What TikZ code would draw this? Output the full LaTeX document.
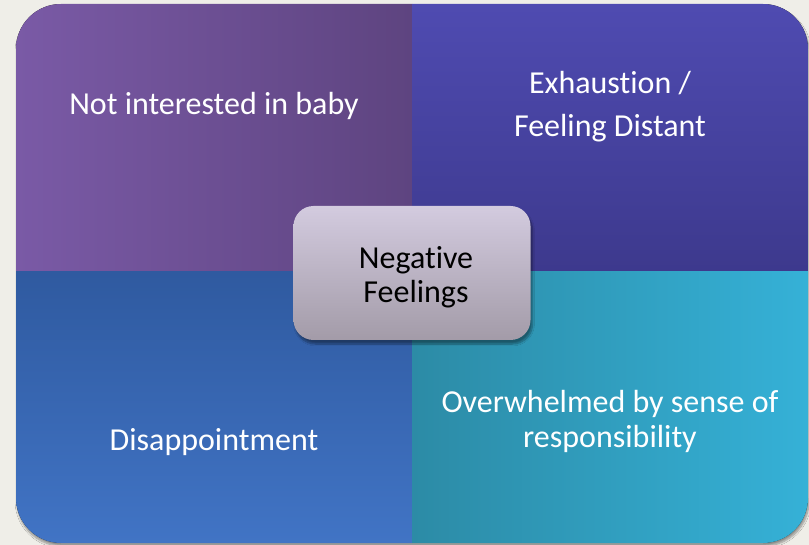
\documentclass[tikz,border=0pt]{standalone}
\usepackage{fontspec}
\setmainfont{Carlito}[Ligatures=NoCommon]
\usetikzlibrary{shadows.blur}

\definecolor{paper}{HTML}{EFEEE8}
\definecolor{plumL}{HTML}{7A5AA6}
\definecolor{plumR}{HTML}{5E4480}
\definecolor{indigoT}{HTML}{4F4BB1}
\definecolor{indigoB}{HTML}{3D398D}
\definecolor{blueT}{HTML}{2F5AA0}
\definecolor{blueB}{HTML}{4174C5}
\definecolor{tealL}{HTML}{2C8BA6}
\definecolor{tealR}{HTML}{35B1D7}
\definecolor{hubT}{HTML}{D3CBDF}
\definecolor{hubB}{HTML}{A39BA8}

\tikzset{
    quadtext/.style={text=white, align=center, font=\fontsize{32}{35}\selectfont},
    hub/.style={draw=none, rounded corners=20pt, minimum width=237pt, minimum height=134pt,
        top color=hubT, bottom color=hubB, align=center,
        font=\fontsize{32}{34}\selectfont,
        blur shadow={shadow xshift=2pt, shadow yshift=-4pt, shadow blur steps=8}}
}

\begin{document}
\begin{tikzpicture}[x=1pt, y=-1pt]
    \fill[paper] (0, 0) rectangle (809, 545);
    \useasboundingbox (0, 0) rectangle (809, 545);

    % soft shadow under the square
    \path[rounded corners=45pt, fill=paper,
        blur shadow={shadow xshift=1pt, shadow yshift=-3pt, shadow blur steps=8}]
        (16, 4) rectangle (808, 543);

    \begin{scope}
        \clip[rounded corners=45pt] (16, 4) rectangle (808, 543);
        \fill[left color=plumL, right color=plumR] (16, 4) rectangle (412, 272);
        \fill[top color=indigoT, bottom color=indigoB] (412, 4) rectangle (808, 272);
        \fill[top color=blueT, bottom color=blueB] (16, 272) rectangle (412, 543);
        \fill[left color=tealL, right color=tealR] (412, 272) rectangle (808, 543);
    \end{scope}

    \node[quadtext] (notint) at (214, 106) {Not interested in baby};
    \node[quadtext, font=\fontsize{32}{43}\selectfont] (exhaust) at (610, 107) {Exhaustion /\\Feeling Distant};
    \node[quadtext] (disapp) at (214, 442) {Disappointment};
    \node[quadtext] (overwh) at (610, 421) {Overwhelmed by sense of\\responsibility};

    \node[hub] (neg) at (412, 273) {};
    \node[align=center, font=\fontsize{32}{34}\selectfont] (negtext) at (416, 277) {Negative\\Feelings};
\end{tikzpicture}
\end{document}
